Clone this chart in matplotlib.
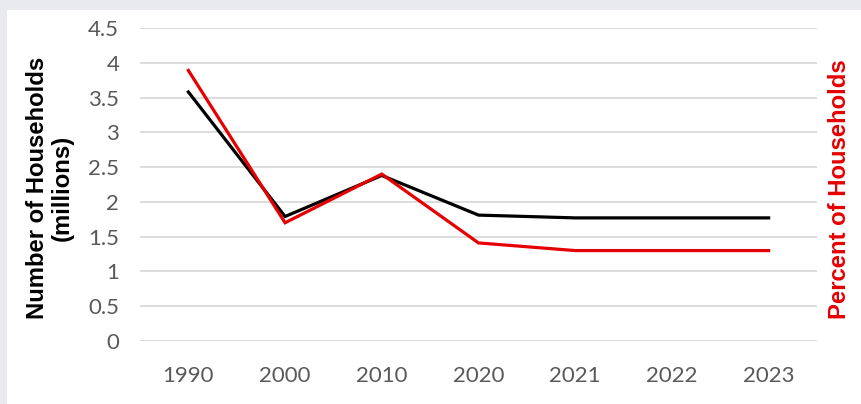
import matplotlib
matplotlib.use("Agg")
import matplotlib.pyplot as plt

years = ["1990", "2000", "2010", "2020", "2021", "2022", "2023"]
households_millions = [3.58, 1.79, 2.38, 1.81, 1.77, 1.77, 1.77]
percent_households = [3.89, 1.70, 2.40, 1.41, 1.30, 1.30, 1.30]
y_ticks = [0, 0.5, 1, 1.5, 2, 2.5, 3, 3.5, 4, 4.5]
y_tick_labels = ["0", "0.5", "1", "1.5", "2", "2.5", "3", "3.5", "4", "4.5"]

W, H = 862, 404
fig = plt.figure(figsize=(W / 100, H / 100), dpi=100)
fig.patch.set_facecolor("#e8eaee")

bg = fig.add_axes([7 / W, 0, 1 - 7 / W, 1 - 10 / H], zorder=-5)
bg.set_facecolor("white")
bg.set_xticks([])
bg.set_yticks([])
for s in bg.spines.values():
    s.set_visible(False)

ax = fig.add_axes([140 / W, 1 - 341 / H, (817 - 140) / W, (341 - 28) / H], zorder=1)
ax.set_facecolor("none")

x = list(range(len(years)))
ax.plot(x, households_millions, color="#000000", lw=2.3, zorder=3,
        solid_joinstyle="miter")
ax.plot(x, percent_households, color="#e60000", lw=2.3, zorder=4,
        solid_joinstyle="miter")

ax.set_xlim(-0.5, len(years) - 0.5)
ax.set_ylim(0, 4.5)
ax.set_yticks(y_ticks)
ax.set_yticklabels(y_tick_labels)
ax.set_xticks(x)
ax.set_xticklabels(years)
ax.grid(axis="y", color="#d9d9d9", lw=1.3)
ax.set_axisbelow(True)
for s in ax.spines.values():
    s.set_visible(False)
ax.tick_params(length=0, labelsize=16, labelcolor="#595959")
ax.tick_params(axis="y", pad=15)
ax.tick_params(axis="x", pad=18)
for lab in ax.get_xticklabels() + ax.get_yticklabels():
    lab.set_family(["Lato", "DejaVu Sans"])

fig.text(50 / W, 1 - 188 / H, "Number of Households\n(millions)",
         rotation=90, ha="center", va="center", fontsize=17.2,
         fontweight="bold", family=["Liberation Sans", "DejaVu Sans"],
         color="black", linespacing=1.1)
fig.text(840 / W, 1 - 189 / H, "Percent of Households", rotation=90,
         ha="center", va="center", fontsize=17.2, fontweight="bold",
         family=["Liberation Sans", "DejaVu Sans"], color="#e60000")

fig.savefig("out.png", dpi=100, facecolor=fig.get_facecolor())
